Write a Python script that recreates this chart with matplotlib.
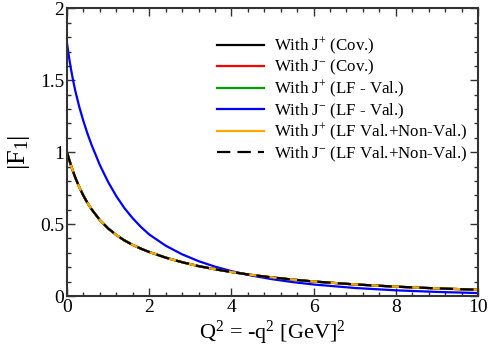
import matplotlib
matplotlib.use("Agg")
import matplotlib.pyplot as plt
from matplotlib.ticker import MultipleLocator, FuncFormatter

plt.rcParams['font.family'] = ['Liberation Serif', 'DejaVu Serif']
plt.rcParams['mathtext.fontset'] = 'custom'
plt.rcParams['mathtext.rm'] = 'Liberation Serif'
plt.rcParams['mathtext.it'] = 'Liberation Serif:italic'

# Q^2 grid (GeV^2)
q2 = [0, 0.05, 0.1, 0.15, 0.2, 0.3, 0.4, 0.5, 0.6, 0.8, 1.0, 1.2, 1.4, 1.6, 1.8,
      2.0, 2.4, 2.8, 3.2, 3.6, 4.0, 4.5, 5.0, 5.5, 6.0, 7.0, 8.0, 9.0, 10.0]
# |F1| : lower curve (Cov. J+, Cov. J-, LF-Val J+, LF Val+Non-Val J+/J-)
f_lower = [1.000, 0.951, 0.905, 0.864, 0.824, 0.756, 0.697, 0.646, 0.602, 0.528, 0.470,
           0.424, 0.386, 0.355, 0.329, 0.306, 0.267, 0.235, 0.208, 0.186, 0.167, 0.146,
           0.129, 0.114, 0.101, 0.0806, 0.0650, 0.0530, 0.0436]
# |F1| : upper curve (LF-Val J-)
f_blue = [1.756, 1.658, 1.571, 1.496, 1.428, 1.313, 1.215, 1.127, 1.049, 0.910, 0.793,
          0.694, 0.610, 0.540, 0.480, 0.428, 0.350, 0.290, 0.2425, 0.2042, 0.1730, 0.1416,
          0.1166, 0.0964, 0.0801, 0.0559, 0.0396, 0.0285, 0.0207]

labels = ["With J$^{+}$ (Cov.)",
          "With J$^{-}$ (Cov.)",
          "With J$^{+}$ (LF - Val.)",
          "With J$^{-}$ (LF - Val.)",
          "With J$^{+}$ (LF Val.+Non-Val.)",
          "With J$^{-}$ (LF Val.+Non-Val.)"]

fig = plt.figure(figsize=(4.91, 3.56), dpi=100)
ax = fig.add_axes([0.1365, 0.1685, 0.837, 0.808])

lw = 1.6
ax.plot(q2, f_lower, color='black', lw=lw, label=labels[0])
ax.plot(q2, f_lower, color='red', lw=lw, label=labels[1])
ax.plot(q2, f_lower, color='#00a000', lw=lw, label=labels[2])
ax.plot(q2, f_blue, color='blue', lw=lw, label=labels[3])
ax.plot(q2, f_lower, color='orange', lw=lw, label=labels[4])
ax.plot(q2, f_lower, color='black', lw=lw, dashes=(6, 3.2), label=labels[5])

ax.set_xlim(0, 10)
ax.set_ylim(0, 2)
ax.xaxis.set_major_locator(MultipleLocator(2))
ax.xaxis.set_minor_locator(MultipleLocator(0.4))
ax.yaxis.set_major_locator(MultipleLocator(0.5))
ax.yaxis.set_minor_locator(MultipleLocator(0.1))
ax.xaxis.set_major_formatter(FuncFormatter(lambda v, p: f"{v:g}"))
ax.yaxis.set_major_formatter(FuncFormatter(lambda v, p: f"{v:g}"))

ax.tick_params(which='both', direction='in', top=True, right=True, width=1.0, colors='#333333',
               labelcolor='black', labelsize=14)
ax.tick_params(which='major', length=6, pad=2)
ax.tick_params(which='minor', length=3)
for s in ax.spines.values():
    s.set_linewidth(1.5)
    s.set_color('#333333')

ax.set_xlabel("Q$^{2}$ = -q$^{2}$ [GeV]$^{2}$", fontsize=16, labelpad=2)
ax.set_ylabel("|F$_{1}$|", fontsize=19, labelpad=6)

leg = ax.legend(loc='upper left', bbox_to_anchor=(0.365, 0.905), frameon=False, fontsize=12.2,
                handlelength=2.8, handletextpad=0.58, labelspacing=0.08, borderpad=0,
                borderaxespad=0)

fig.savefig("out.png", dpi=100)
